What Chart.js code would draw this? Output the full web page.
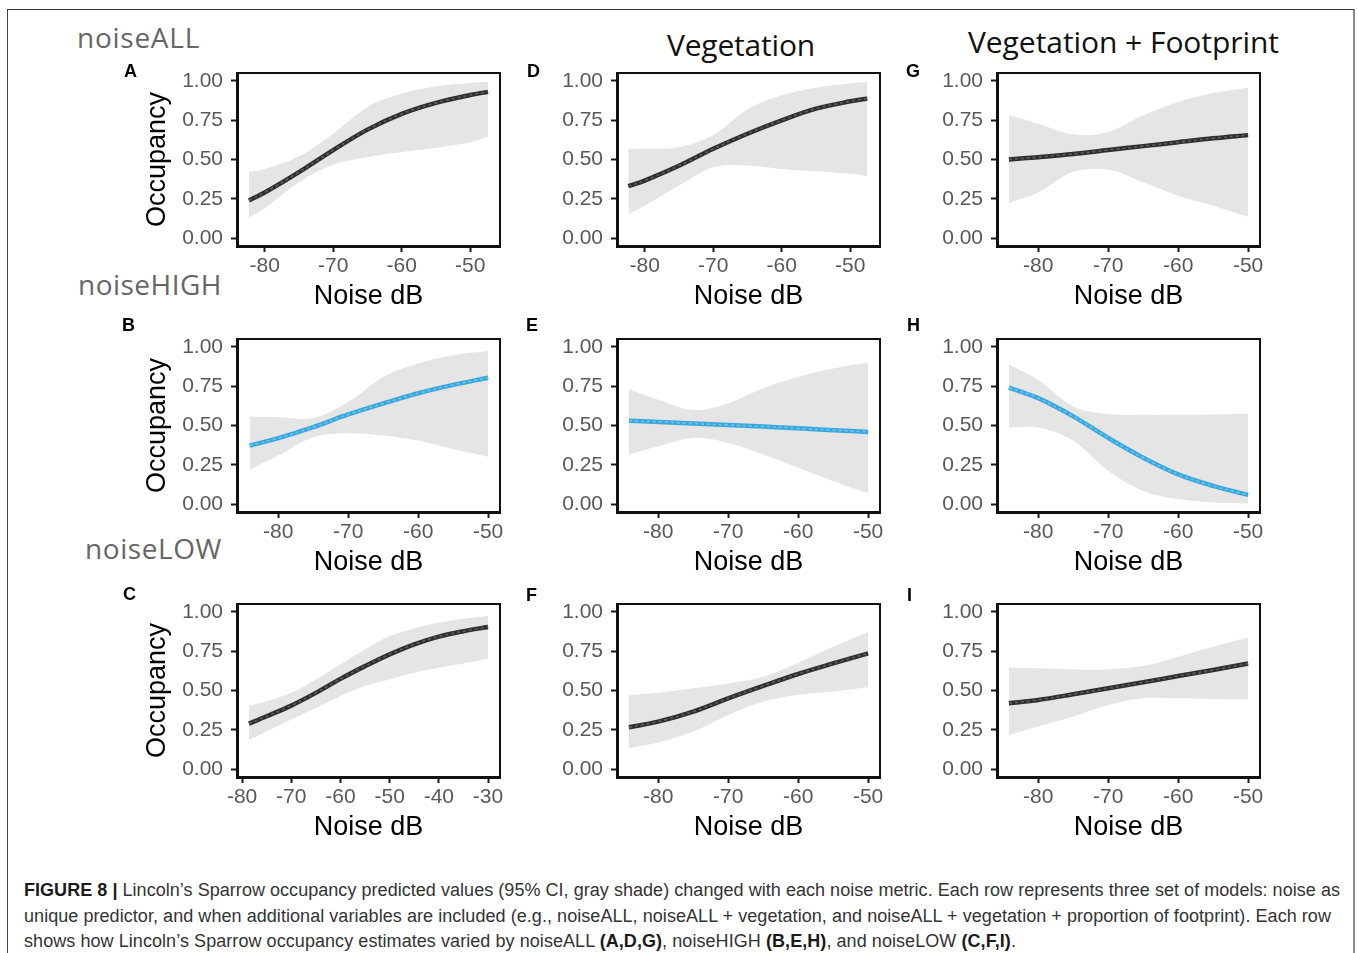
<!DOCTYPE html>
<html>
<head>
<meta charset="utf-8">
<script src="https://cdn.jsdelivr.net/npm/chart.js@4.4.1/dist/chart.umd.min.js"></script>
<style>
  body { margin: 0; width: 1358px; height: 953px; overflow: hidden; position: relative; background: #fff; }
  canvas { position: absolute; }
  .frame { position: absolute; left: 7px; top: 9px; width: 1345px; height: 1000px;
    border-top: 1.5px solid #3a3a3a; border-left: 1.5px solid #444; border-right: 2px solid #8a8a8a; }
  .txt { position: absolute; white-space: nowrap; line-height: 1; }
  .row-name { font-family: 'Open Sans', sans-serif; font-size: 28px; color: #666; }
  .col-name { font-family: 'Open Sans', sans-serif; font-size: 30px; color: #111; }
  .letter { font-family: 'Liberation Sans', Arial, sans-serif; font-size: 18px; font-weight: bold; color: #000; }
  .caption { font-family: 'Liberation Sans', Arial, sans-serif; font-size: 18px; color: #333; }
  .caption b { color: #1a1a1a; }
</style>
</head>
<body>
<div class="frame"></div>

<div class="txt row-name" style="left:77px; top:23px" data-w="123">noiseALL</div>
<div class="txt row-name" style="left:78px; top:270px" data-w="144">noiseHIGH</div>
<div class="txt row-name" style="left:85px; top:534px" data-w="137">noiseLOW</div>
<div class="txt col-name" style="left:667px; top:30px" data-w="148">Vegetation</div>
<div class="txt col-name" style="left:968px; top:27px" data-w="311">Vegetation + Footprint</div>

<div class="txt caption" style="left:24px; top:881px" data-w="1316"><b>FIGURE 8 |</b> Lincoln’s Sparrow occupancy predicted values (95% CI, gray shade) changed with each noise metric. Each row represents three set of models: noise as</div>
<div class="txt caption" style="left:24px; top:907px" data-w="1307">unique predictor, and when additional variables are included (e.g., noiseALL, noiseALL + vegetation, and noiseALL + vegetation + proportion of footprint). Each row</div>
<div class="txt caption" style="left:24px; top:932px" data-w="992">shows how Lincoln’s Sparrow occupancy estimates varied by noiseALL <b>(A,D,G)</b>, noiseHIGH <b>(B,E,H)</b>, and noiseLOW <b>(C,F,I)</b>.</div>

<script>
// axis ticks and limits
const ticksOcc = [0, 0.25, 0.5, 0.75, 1];
const ticksDb = [-80, -70, -60, -50];
const ticksDbLow = [-80, -70, -60, -50, -40, -30];
const rangeAll = [-84.05, -45.65];
const rangeDb = [-85.9, -48.3];
const rangeDbLow = [-81.03, -27.57];

// noiseALL row
const noiseA = [-82.3, -80, -75, -70, -65, -60, -55, -50, -47.4];
const fitA = [0.24, 0.29, 0.42, 0.56, 0.69, 0.79, 0.86, 0.91, 0.93];
const lowA = [0.13, 0.19, 0.355, 0.468, 0.515, 0.547, 0.575, 0.61, 0.647];
const highA = [0.42, 0.44, 0.52, 0.664, 0.834, 0.919, 0.966, 0.987, 0.994];

const noiseD = [-82.4, -80, -75, -70, -65, -60, -55, -50, -47.5];
const fitD = [0.33, 0.366, 0.46, 0.568, 0.664, 0.749, 0.823, 0.87, 0.887];
const lowD = [0.153, 0.206, 0.334, 0.451, 0.462, 0.44, 0.426, 0.409, 0.394];
const highD = [0.568, 0.568, 0.579, 0.655, 0.82, 0.909, 0.957, 0.983, 0.994];

const noiseG = [-84.2, -80, -75, -70, -65, -60, -55, -50];
const fitG = [0.5, 0.515, 0.535, 0.56, 0.585, 0.61, 0.635, 0.655];
const lowG = [0.223, 0.291, 0.42, 0.435, 0.355, 0.27, 0.206, 0.136];
const highG = [0.781, 0.728, 0.66, 0.675, 0.781, 0.866, 0.923, 0.957];

// noiseHIGH row
const noiseB = [-84.1, -80, -75, -70, -65, -60, -55, -50];
const fitB = [0.372, 0.42, 0.49, 0.57, 0.64, 0.705, 0.758, 0.804];
const lowB = [0.217, 0.309, 0.426, 0.451, 0.436, 0.404, 0.351, 0.302];
const highB = [0.557, 0.553, 0.548, 0.649, 0.809, 0.894, 0.947, 0.974];

const noiseE = [-84.2, -80, -75, -70, -65, -60, -55, -50];
const fitE = [0.53, 0.523, 0.513, 0.503, 0.493, 0.482, 0.47, 0.459];
const lowE = [0.316, 0.368, 0.421, 0.389, 0.316, 0.232, 0.147, 0.069];
const highE = [0.73, 0.663, 0.598, 0.642, 0.737, 0.81, 0.863, 0.9];

const noiseH = [-84.2, -80, -75, -70, -65, -60, -55, -50];
const fitH = [0.741, 0.674, 0.558, 0.421, 0.295, 0.189, 0.116, 0.059];
const lowH = [0.488, 0.488, 0.404, 0.21, 0.084, 0.032, 0.011, 0.004];
const highH = [0.888, 0.789, 0.621, 0.573, 0.568, 0.568, 0.57, 0.573];

// noiseLOW row
const noiseC = [-78.6, -75, -70, -65, -60, -55, -50, -45, -40, -35, -30];
const fitC = [0.289, 0.336, 0.404, 0.485, 0.574, 0.655, 0.73, 0.794, 0.843, 0.877, 0.904];
const lowC = [0.187, 0.24, 0.315, 0.389, 0.464, 0.528, 0.57, 0.613, 0.645, 0.672, 0.702];
const highC = [0.404, 0.432, 0.485, 0.57, 0.666, 0.76, 0.846, 0.894, 0.932, 0.957, 0.974];

const noiseF = [-84.2, -80, -75, -70, -65, -60, -55, -50];
const fitF = [0.266, 0.302, 0.366, 0.45, 0.529, 0.605, 0.672, 0.736];
const lowF = [0.133, 0.169, 0.239, 0.345, 0.429, 0.471, 0.493, 0.52];
const highF = [0.471, 0.486, 0.514, 0.545, 0.588, 0.677, 0.778, 0.873];

const noiseI = [-84.2, -80, -75, -70, -65, -60, -55, -50];
const fitI = [0.419, 0.44, 0.476, 0.514, 0.552, 0.592, 0.63, 0.672];
const lowI = [0.218, 0.271, 0.334, 0.408, 0.45, 0.45, 0.446, 0.444];
const highI = [0.647, 0.641, 0.634, 0.634, 0.655, 0.715, 0.778, 0.837];

const DARK = '#2f2f2f';
const DARK_DASH = '#5e5e5e';
const BLUE = '#3ba8dd';
const BLUE_DASH = '#72c3ea';
const BAND = '#e5e5e5';
const TICK_GRAY = '#595959';

const colLeft = [237, 617, 997];
const rowTop = [73, 339, 604];
const plotW = 263;
const plotH = 173;
const axisW = 102;
const axisH = 70;
const padTop = 26;
const padRight = 24;

const panels = [
  { letter: 'A', col: 0, row: 0, noise: noiseA, fit: fitA, low: lowA, high: highA, range: rangeAll, ticks: ticksDb, color: DARK, dash: DARK_DASH },
  { letter: 'D', col: 1, row: 0, noise: noiseD, fit: fitD, low: lowD, high: highD, range: rangeAll, ticks: ticksDb, color: DARK, dash: DARK_DASH },
  { letter: 'G', col: 2, row: 0, noise: noiseG, fit: fitG, low: lowG, high: highG, range: rangeDb, ticks: ticksDb, color: DARK, dash: DARK_DASH },
  { letter: 'B', col: 0, row: 1, noise: noiseB, fit: fitB, low: lowB, high: highB, range: rangeDb, ticks: ticksDb, color: BLUE, dash: BLUE_DASH },
  { letter: 'E', col: 1, row: 1, noise: noiseE, fit: fitE, low: lowE, high: highE, range: rangeDb, ticks: ticksDb, color: BLUE, dash: BLUE_DASH },
  { letter: 'H', col: 2, row: 1, noise: noiseH, fit: fitH, low: lowH, high: highH, range: rangeDb, ticks: ticksDb, color: BLUE, dash: BLUE_DASH },
  { letter: 'C', col: 0, row: 2, noise: noiseC, fit: fitC, low: lowC, high: highC, range: rangeDbLow, ticks: ticksDbLow, color: DARK, dash: DARK_DASH },
  { letter: 'F', col: 1, row: 2, noise: noiseF, fit: fitF, low: lowF, high: highF, range: rangeDb, ticks: ticksDb, color: DARK, dash: DARK_DASH },
  { letter: 'I', col: 2, row: 2, noise: noiseI, fit: fitI, low: lowI, high: highI, range: rangeDb, ticks: ticksDb, color: DARK, dash: DARK_DASH },
];

// panel letter positions (left, cap top)
const letterPos = {
  A: [124, 64], D: [527, 64], G: [906, 64],
  B: [122, 318], E: [526, 318], H: [907, 318],
  C: [123, 587], F: [526, 588], I: [907, 588],
};

// thin frame round each plot area
const panelBox = {
  id: 'panelBox',
  afterDatasetsDraw(chart) {
    const { ctx, chartArea: a } = chart;
    ctx.save();
    ctx.strokeStyle = '#111';
    ctx.lineWidth = 2;
    ctx.strokeRect(a.left, a.top, a.right - a.left, a.bottom - a.top);
    ctx.restore();
  },
};

const tickFont = { family: "'Liberation Sans', Arial, sans-serif", size: 21 };
const titleFont = { family: "'Liberation Sans', Arial, sans-serif", size: 27, lineHeight: 1 };

const axisGrid = {
  display: true,
  drawOnChartArea: false,
  drawTicks: true,
  tickLength: 6,
  tickWidth: 2,
  tickColor: '#1a1a1a',
};

const makePanel = (p) => {
  const canvas = document.createElement('canvas');
  canvas.width = axisW + plotW + padRight;
  canvas.height = padTop + plotH + axisH;
  canvas.style.left = (colLeft[p.col] - axisW) + 'px';
  canvas.style.top = (rowTop[p.row] - padTop) + 'px';
  document.body.appendChild(canvas);

  const points = (ys) => p.noise.map((x, i) => ({ x, y: ys[i] }));

  new Chart(canvas, {
    type: 'line',
    data: {
      datasets: [
        { data: points(p.fit), borderColor: p.dash, borderWidth: 1.6, borderDash: [3, 3] },
        { data: points(p.fit), borderColor: p.color, borderWidth: 4.5 },
        { data: points(p.high), borderColor: 'transparent', borderWidth: 0, fill: '+1', backgroundColor: BAND },
        { data: points(p.low), borderColor: 'transparent', borderWidth: 0 },
      ],
    },
    options: {
      responsive: false,
      animation: false,
      events: [],
      layout: { padding: { top: padTop, right: padRight, left: 0, bottom: 0 } },
      elements: {
        point: { radius: 0 },
        line: { tension: 0.35, capBezierPoints: true },
      },
      plugins: { legend: { display: false }, tooltip: { enabled: false } },
      scales: {
        x: {
          type: 'linear',
          bounds: 'data',
          min: p.range[0],
          max: p.range[1],
          afterBuildTicks: (scale) => { scale.ticks = p.ticks.map((value) => ({ value })); },
          afterFit: (scale) => { scale.height = axisH; },
          ticks: { autoSkip: false, maxRotation: 0, padding: 2, color: TICK_GRAY, font: tickFont, callback: (v) => String(v) },
          grid: axisGrid,
          border: { display: true, color: '#111', width: 3 },
          title: { display: true, text: 'Noise dB', color: '#000', font: titleFont, padding: { top: 0, bottom: 6 } },
        },
        y: {
          type: 'linear',
          bounds: 'data',
          min: -0.05,
          max: 1.05,
          afterBuildTicks: (scale) => { scale.ticks = ticksOcc.map((value) => ({ value })); },
          afterFit: (scale) => { scale.width = axisW; },
          ticks: { autoSkip: false, padding: 8, color: TICK_GRAY, font: tickFont, callback: (v) => v.toFixed(2) },
          grid: axisGrid,
          border: { display: true, color: '#111', width: 3 },
          title: { display: p.col === 0, text: 'Occupancy', color: '#000', font: titleFont, padding: { top: 9, bottom: 0 } },
        },
      },
    },
    plugins: [panelBox],
  });

  const [lx, ly] = letterPos[p.letter];
  const label = document.createElement('div');
  label.className = 'txt letter';
  label.textContent = p.letter;
  label.style.left = lx + 'px';
  label.style.top = (ly - 2.4) + 'px';
  document.body.appendChild(label);
};

// stretch headings and caption lines to their set widths
const fitWidth = (el) => {
  const target = Number(el.dataset.w);
  const natural = el.getBoundingClientRect().width;
  const chars = el.textContent.length;
  el.style.letterSpacing = ((target - natural) / chars).toFixed(3) + 'px';
};

document.fonts.ready.then(() => {
  panels.forEach(makePanel);
  document.querySelectorAll('[data-w]').forEach(fitWidth);
});
</script>
</body>
</html>
